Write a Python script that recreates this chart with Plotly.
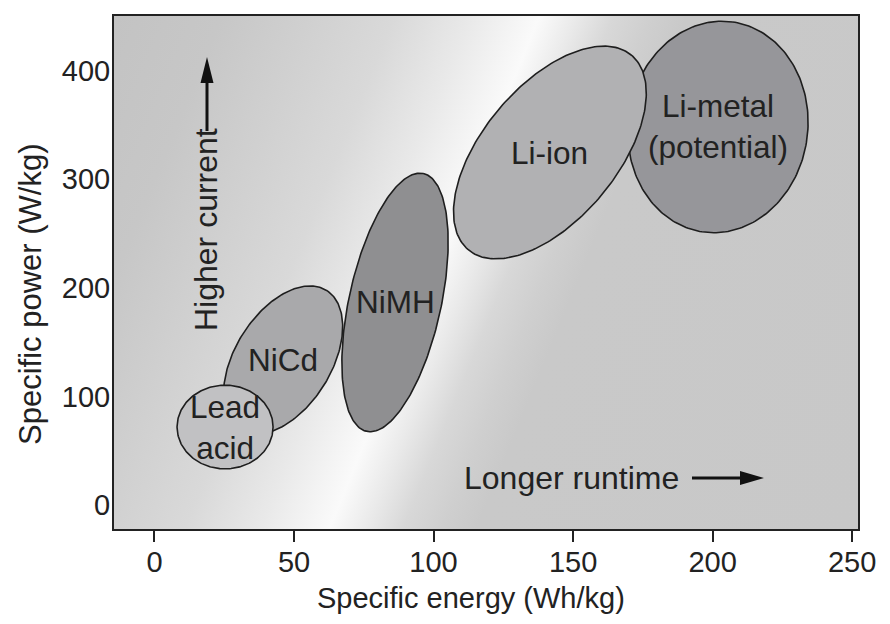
import base64
import numpy as np
import plotly.graph_objects as go

# battery regions
labels = ["Lead<br>acid", "NiCd", "NiMH", "Li-ion", "Li-metal<br>(potential)"]
energy_center = [25.3, 46.1, 86.2, 141.7, 201.9]      # Wh/kg
power_center = [71.8, 133.5, 186.5, 324.6, 348.1]     # W/kg
semi_major = [17.2, 29.4, 47.3, 45.5, 38.0]           # in Wh/kg-equivalent
semi_minor = [15.0, 17.2, 16.5, 24.0, 32.2]
tilt_deg = [0, 58, 77.6, 50, 82]
fills = ["#c1c1c3", "#a9a9ab", "#8f8f91", "#b1b1b3", "#96969a"]
draw_order = [1, 0, 2, 4, 3]

x_ticks = [0, 50, 100, 150, 200, 250]
y_ticks = [0, 100, 200, 300, 400]

# the page adds an 8px body margin, so the figure is 8px smaller
OFF = 8
W, H = 890 - OFF, 624 - OFF
ML, MR, MT, MB = 114 - OFF, 32, 16 - OFF, 95
PW, PH = W - ML - MR, H - MT - MB
x_range = [-14.5, 252.1]
y_range = [-22.1, 450.3]
kx = PW / (x_range[1] - x_range[0])
ky = PH / (y_range[1] - y_range[0])

TXT = "#222222"
FONT = "Liberation Sans, Arial, sans-serif"

fig = go.Figure()

t = np.linspace(0, 2 * np.pi, 240)
for i in draw_order:
    th = np.radians(tilt_deg[i])
    a, b = semi_major[i], semi_minor[i]
    dx = a * np.cos(t) * np.cos(th) - b * np.sin(t) * np.sin(th)
    dy = (a * np.cos(t) * np.sin(th) + b * np.sin(t) * np.cos(th)) * kx / ky
    fig.add_trace(go.Scatter(
        x=energy_center[i] + dx,
        y=power_center[i] + dy,
        mode="lines",
        fill="toself",
        fillcolor=fills[i],
        line=dict(color="#1e1e1e", width=1.6),
        hoverinfo="skip",
        showlegend=False
    ))

for i, lab in enumerate(labels):
    fig.add_annotation(x=energy_center[i], y=power_center[i], text=lab,
                       xanchor="center", yanchor="middle",
                       showarrow=False, font=dict(size=31.5, color=TXT, family=FONT))

# diagonal light band in the background
stops = [(0.0, "#c3c3c3"), (0.113, "#c7c7c7"), (0.204, "#d0d0d0"), (0.294, "#d9d9d9"),
         (0.374, "#e9e9e9"), (0.446, "#fafafa"), (0.484, "#eaeaea"), (0.523, "#d8d8d8"),
         (0.563, "#cfcfcf"), (0.6, "#c9c9c9"), (1.0, "#c8c8c8")]
stop_txt = "".join('<stop offset="%g" stop-color="%s"/>' % s for s in stops)
svg = ('<svg xmlns="http://www.w3.org/2000/svg" width="%d" height="%d" viewBox="0 0 %d %d" '
       'preserveAspectRatio="none"><defs><linearGradient id="g" gradientUnits="userSpaceOnUse" '
       'x1="0" y1="0" x2="817" y2="335">%s</linearGradient></defs>'
       '<rect width="%d" height="%d" fill="url(#g)"/></svg>') % (PW, PH, PW, PH, stop_txt, PW, PH)
src = "data:image/svg+xml;base64," + base64.b64encode(svg.encode()).decode()
fig.add_layout_image(dict(source=src, xref="paper", yref="paper", x=0, y=1,
                          sizex=1, sizey=1, sizing="stretch", xanchor="left",
                          yanchor="top", layer="below"))


# page pixel -> paper coords
def px(x):
    return (x - OFF - ML) / PW


def py(y):
    return (MT + PH - (y - OFF)) / PH


def note(x, y, text, size, angle=0):
    fig.add_annotation(xref="paper", yref="paper", x=px(x), y=py(y), text=text,
                       textangle=angle, xanchor="center", yanchor="middle",
                       showarrow=False, font=dict(size=size, color=TXT, family=FONT))


# "Higher current" arrow
note(206, 230, "Higher current", 32, -90)
fig.add_shape(type="line", xref="paper", yref="paper", x0=px(207), x1=px(207),
              y0=py(131), y1=py(80), line=dict(color="#111111", width=3))
fig.add_shape(type="path", xref="paper", yref="paper",
              path="M %f %f L %f %f L %f %f Z" % (px(207), py(57), px(200.5), py(83), px(213.5), py(83)),
              fillcolor="#111111", line=dict(width=0))

# "Longer runtime" arrow
note(571, 478, "Longer runtime", 32)
fig.add_shape(type="line", xref="paper", yref="paper", x0=px(692), x1=px(742),
              y0=py(478), y1=py(478), line=dict(color="#111111", width=3))
fig.add_shape(type="path", xref="paper", yref="paper",
              path="M %f %f L %f %f L %f %f Z" % (px(764), py(478), px(740), py(471), px(740), py(485)),
              fillcolor="#111111", line=dict(width=0))

# axis titles
note(471, 598, "Specific energy (Wh/kg)", 29)
note(30, 295, "Specific power (W/kg)", 31, -90)

fig.update_layout(
    width=W, height=H,
    margin=dict(l=ML, r=MR, t=MT, b=MB, autoexpand=False),
    paper_bgcolor="white",
    plot_bgcolor="#c8c8c8",
    font=dict(family=FONT, color=TXT),
    xaxis=dict(range=x_range, tickvals=x_ticks, showgrid=False, zeroline=False,
               showline=True, mirror=True, linecolor="#222222", linewidth=2,
               ticks="outside", ticklen=11, tickwidth=2, tickcolor="#222222",
               ticklabelstandoff=-5,
               automargin=False, tickfont=dict(size=29, color=TXT)),
    yaxis=dict(range=y_range, tickvals=y_ticks, showgrid=False, zeroline=False,
               showline=True, mirror=True, linecolor="#222222", linewidth=2,
               ticks="", ticklabelstandoff=-4,
               automargin=False, tickfont=dict(size=29, color=TXT)),
)

fig.write_html("out.html")
